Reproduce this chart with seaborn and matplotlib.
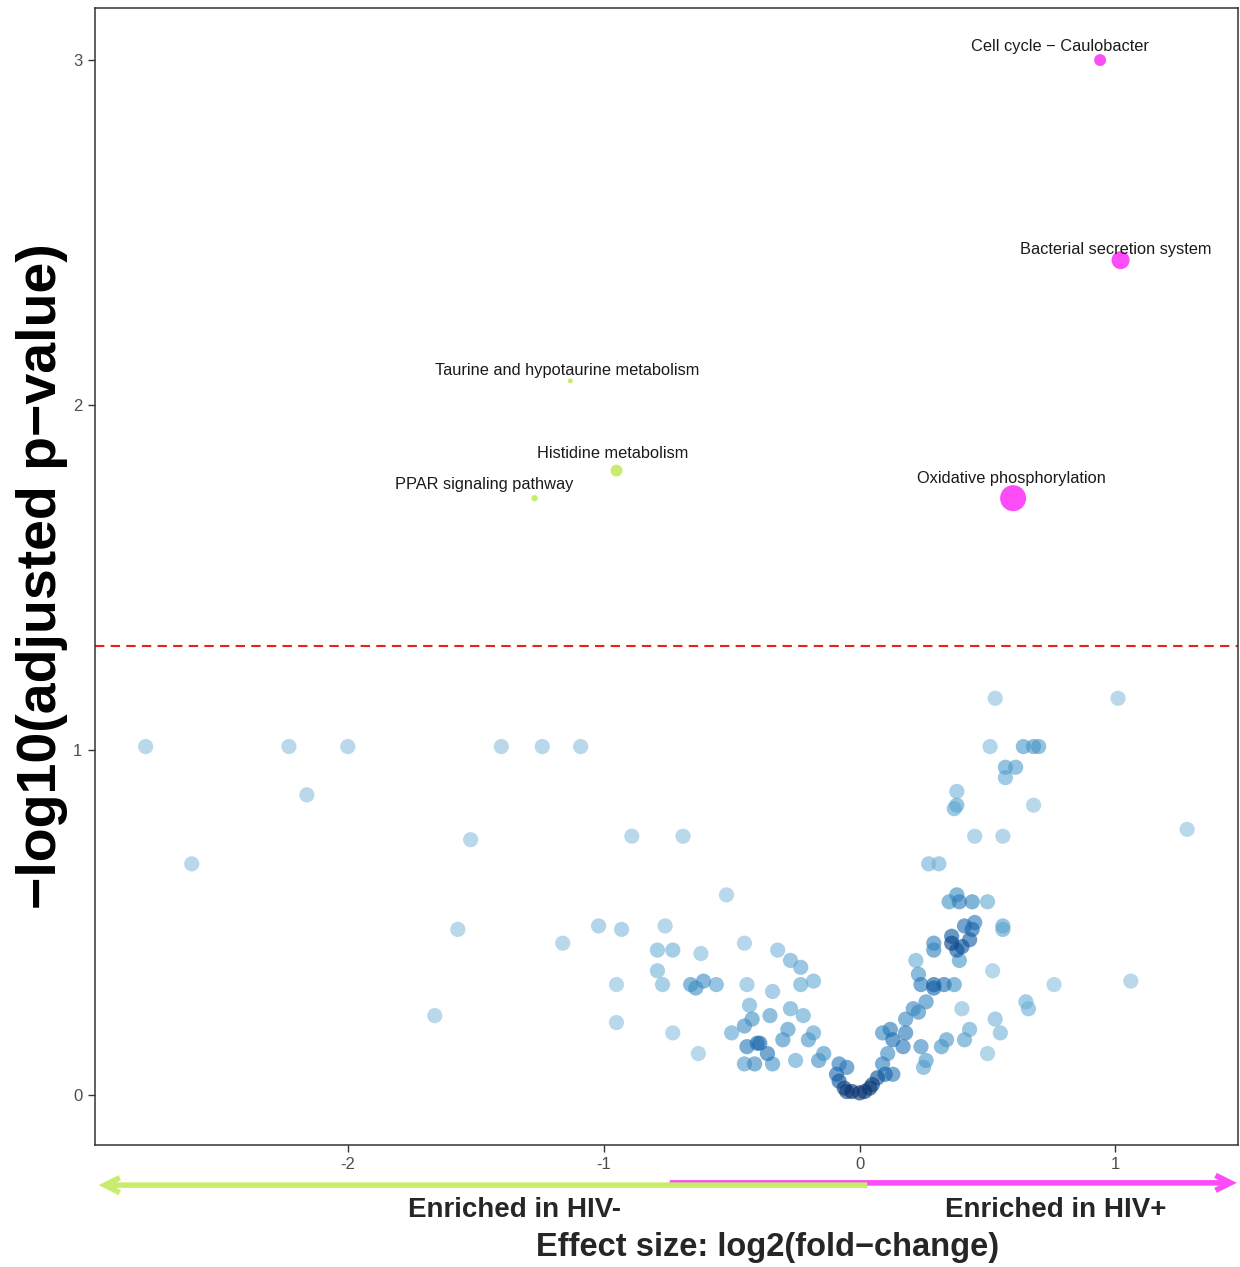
import numpy as np
import pandas as pd
import matplotlib
matplotlib.use("Agg")
import matplotlib.pyplot as plt
from matplotlib.colors import LinearSegmentedColormap
from matplotlib import font_manager
import seaborn as sns

# ---------------- data ----------------
# background (non-significant) pathways: log2 fold change and -log10 adjusted p
bg_lfc = [-2.79, -2.23, -2.00, -1.40, -1.24, -1.09, -2.16, -2.61, -1.52, -0.89, -0.69,
          -1.57, -1.16, -1.66, -1.02, -0.93, -0.52, -0.76, -0.45, -0.79, -0.73, -0.62,
          -0.79, -0.77, -0.95, -0.66, -0.64, -0.61, -0.56, -0.44, -0.43, -0.42, -0.45,
          -0.50, -0.44, -0.40, -0.45, -0.41, -0.95, -0.73, -0.63, -0.32, -0.27, -0.23,
          -0.23, -0.18, -0.34, -0.27, -0.22, -0.35, -0.28, -0.30, -0.18, -0.20, -0.39,
          -0.36, -0.34, -0.25, -0.14, -0.16,
          -0.08, -0.05, -0.09, -0.08, -0.06, -0.05, -0.03, 0.00, 0.02, 0.04, 0.05, 0.07,
          0.10, 0.13, 0.09, 0.11,
          0.09, 0.12, 0.13, 0.17, 0.18, 0.18, 0.21, 0.23, 0.26, 0.24, 0.32, 0.34, 0.41,
          0.43, 0.26, 0.25, 0.50, 0.53, 0.55, 0.40, 0.65, 0.66, 0.22, 0.23, 0.24, 0.29,
          0.33, 0.37, 0.29, 0.52, 0.76, 1.06, 0.36, 0.36, 0.38, 0.40, 0.43, 0.44, 0.29,
          0.29, 0.39, 0.41, 0.45, 0.56, 0.56, 0.35, 0.38, 0.39, 0.44, 0.50, 0.27, 0.31,
          0.45, 0.56, 0.37, 0.38, 0.38, 0.68, 0.57, 0.61, 0.57, 0.51, 0.64, 0.68, 0.70,
          0.53, 1.01, 1.28]
bg_nlp = [1.01, 1.01, 1.01, 1.01, 1.01, 1.01, 0.87, 0.67, 0.74, 0.75, 0.75,
          0.48, 0.44, 0.23, 0.49, 0.48, 0.58, 0.49, 0.44, 0.42, 0.42, 0.41,
          0.36, 0.32, 0.32, 0.32, 0.31, 0.33, 0.32, 0.32, 0.26, 0.22, 0.20,
          0.18, 0.14, 0.15, 0.09, 0.09, 0.21, 0.18, 0.12, 0.42, 0.39, 0.37,
          0.32, 0.33, 0.30, 0.25, 0.23, 0.23, 0.19, 0.16, 0.18, 0.16, 0.15,
          0.12, 0.09, 0.10, 0.12, 0.10,
          0.09, 0.08, 0.06, 0.04, 0.02, 0.01, 0.01, 0.006, 0.01, 0.02, 0.03, 0.05,
          0.06, 0.06, 0.09, 0.12,
          0.18, 0.19, 0.16, 0.14, 0.18, 0.22, 0.25, 0.24, 0.27, 0.14, 0.14, 0.16, 0.16,
          0.19, 0.10, 0.08, 0.12, 0.22, 0.18, 0.25, 0.27, 0.25, 0.39, 0.35, 0.32, 0.32,
          0.32, 0.32, 0.31, 0.36, 0.32, 0.33, 0.46, 0.44, 0.42, 0.43, 0.45, 0.48, 0.44,
          0.42, 0.39, 0.49, 0.50, 0.49, 0.48, 0.56, 0.58, 0.56, 0.56, 0.56, 0.67, 0.67,
          0.75, 0.75, 0.83, 0.84, 0.88, 0.84, 0.95, 0.95, 0.92, 1.01, 1.01, 1.01, 1.01,
          1.15, 1.15, 0.77]

# significant pathways
sig_names = ["Cell cycle \u2212 Caulobacter", "Bacterial secretion system",
             "Oxidative phosphorylation", "Taurine and hypotaurine metabolism",
             "Histidine metabolism", "PPAR signaling pathway"]
sig_lfc = [0.94, 1.02, 0.60, -1.13, -0.95, -1.27]
sig_nlp = [3.00, 2.42, 1.73, 2.07, 1.81, 1.73]
sig_genes = [9, 20, 41, 2, 9, 3]
sig_group = ["HIV+", "HIV+", "HIV+", "HIV-", "HIV-", "HIV-"]

threshold = -np.log10(0.05)

# ---------------- style ----------------
sns.set_theme(style="white")
avail = {f.name for f in font_manager.fontManager.ttflist}
base_font = ["Liberation Sans", "DejaVu Sans"]
narrow_font = ["Liberation Sans Narrow", "Liberation Sans", "DejaVu Sans"]
has_narrow = "Liberation Sans Narrow" in avail
plt.rcParams["font.family"] = base_font

MAGENTA = "#FB4CF8"
GREEN = "#C8EC6E"

fig = plt.figure(figsize=(12.4, 12.67), dpi=100)
ax = fig.add_axes([0.0766, 0.0963, 0.9214, 0.8974])

# density colouring of background points (like R densCols)
bx = np.array(bg_lfc)
by = np.array(bg_nlp)
hx, hy = 0.06, 0.03
dens = np.exp(-0.5 * ((bx[:, None] - bx[None, :]) / hx) ** 2
              - 0.5 * ((by[:, None] - by[None, :]) / hy) ** 2).sum(axis=1)
bg = pd.DataFrame({"lfc": bx, "nlp": by, "dens": dens})
bg = bg.sort_values("dens")
cmap = LinearSegmentedColormap.from_list(
    "blues", ["#8FC2E0", "#6BAED6", "#4292C6", "#2171B5", "#08519C", "#08306B"])

sns.scatterplot(data=bg, x="lfc", y="nlp", hue="dens", palette=cmap,
                hue_norm=(dens.min(), dens.max()), s=120, alpha=0.62,
                linewidth=0, legend=False, ax=ax, zorder=3)

sig = pd.DataFrame({"name": sig_names, "lfc": sig_lfc, "nlp": sig_nlp,
                    "genes": sig_genes, "group": sig_group})
sns.scatterplot(data=sig, x="lfc", y="nlp", hue="group", size="genes",
                sizes=(13, 350), size_norm=(min(sig_genes), max(sig_genes)),
                palette={"HIV+": MAGENTA, "HIV-": GREEN},
                linewidth=0, legend=False, ax=ax, zorder=4)

# labels (offset in pixels)
label_offsets = {
    "Cell cycle \u2212 Caulobacter": (-40, 14),
    "Bacterial secretion system": (-5, 11),
    "Oxidative phosphorylation": (-2, 20),
    "Taurine and hypotaurine metabolism": (-3, 10),
    "Histidine metabolism": (-4, 17),
    "PPAR signaling pathway": (-50, 14),
}
for _, r in sig.iterrows():
    dx, dy = label_offsets[r["name"]]
    ax.annotate(r["name"], xy=(r["lfc"], r["nlp"]), xytext=(dx, dy),
                textcoords="offset pixels", ha="center", va="center",
                fontsize=11.8, color="#1a1a1a", zorder=5)

ax.axhline(threshold, color="#E8201E", lw=1.5, ls=(0, (4.5, 3)), zorder=2)

ax.set_xlim(-2.988, 1.477)
ax.set_ylim(-0.145, 3.151)
ax.set_xticks([-2, -1, 0, 1])
ax.set_yticks([0, 1, 2, 3])
ax.set_xticklabels(["-2", "-1", "0", "1"])
ax.set_yticklabels(["0", "1", "2", "3"])
ax.tick_params(axis="both", which="both", direction="out", length=5, width=1,
               color="#333333", labelsize=12, labelcolor="#4D4D4D",
               bottom=True, left=True, pad=4)
for sp in ax.spines.values():
    sp.set_color("#333333")
    sp.set_linewidth(1.1)
ax.set_xlabel("")
ax.set_ylabel("\u2212log10(adjusted p\u2212value)",
              family=narrow_font, fontweight="bold",
              fontsize=42 if has_narrow else 40, color="black", labelpad=4)

# direction arrows under the axis
arrow_y = -0.0343
head = "->,head_length=0.9,head_width=0.45"
ax.annotate("", xy=(1.474, arrow_y + 0.001), xytext=(-0.742, arrow_y + 0.001),
            xycoords=("data", "axes fraction"), annotation_clip=False,
            arrowprops=dict(arrowstyle=head, color=MAGENTA, lw=4.0,
                            shrinkA=0, shrinkB=0, capstyle="butt",
                            joinstyle="miter"))
ax.annotate("", xy=(-2.974, arrow_y - 0.001), xytext=(0.03, arrow_y - 0.001),
            xycoords=("data", "axes fraction"), annotation_clip=False,
            arrowprops=dict(arrowstyle=head, color=GREEN, lw=4.0,
                            shrinkA=0, shrinkB=0, capstyle="butt",
                            joinstyle="miter"))

fs_small = 20
fig.text(0.415, 0.045, "Enriched in HIV-", ha="center", va="center",
         family=narrow_font, fontweight="bold", fontsize=fs_small)
fig.text(0.851, 0.045, "Enriched in HIV+", ha="center", va="center",
         family=narrow_font, fontweight="bold", fontsize=fs_small)
fig.text(0.619, 0.0155, "Effect size: log2(fold\u2212change)", ha="center", va="center",
         family=narrow_font, fontweight="bold", fontsize=23.5)

fig.savefig("out.png", dpi=100)
